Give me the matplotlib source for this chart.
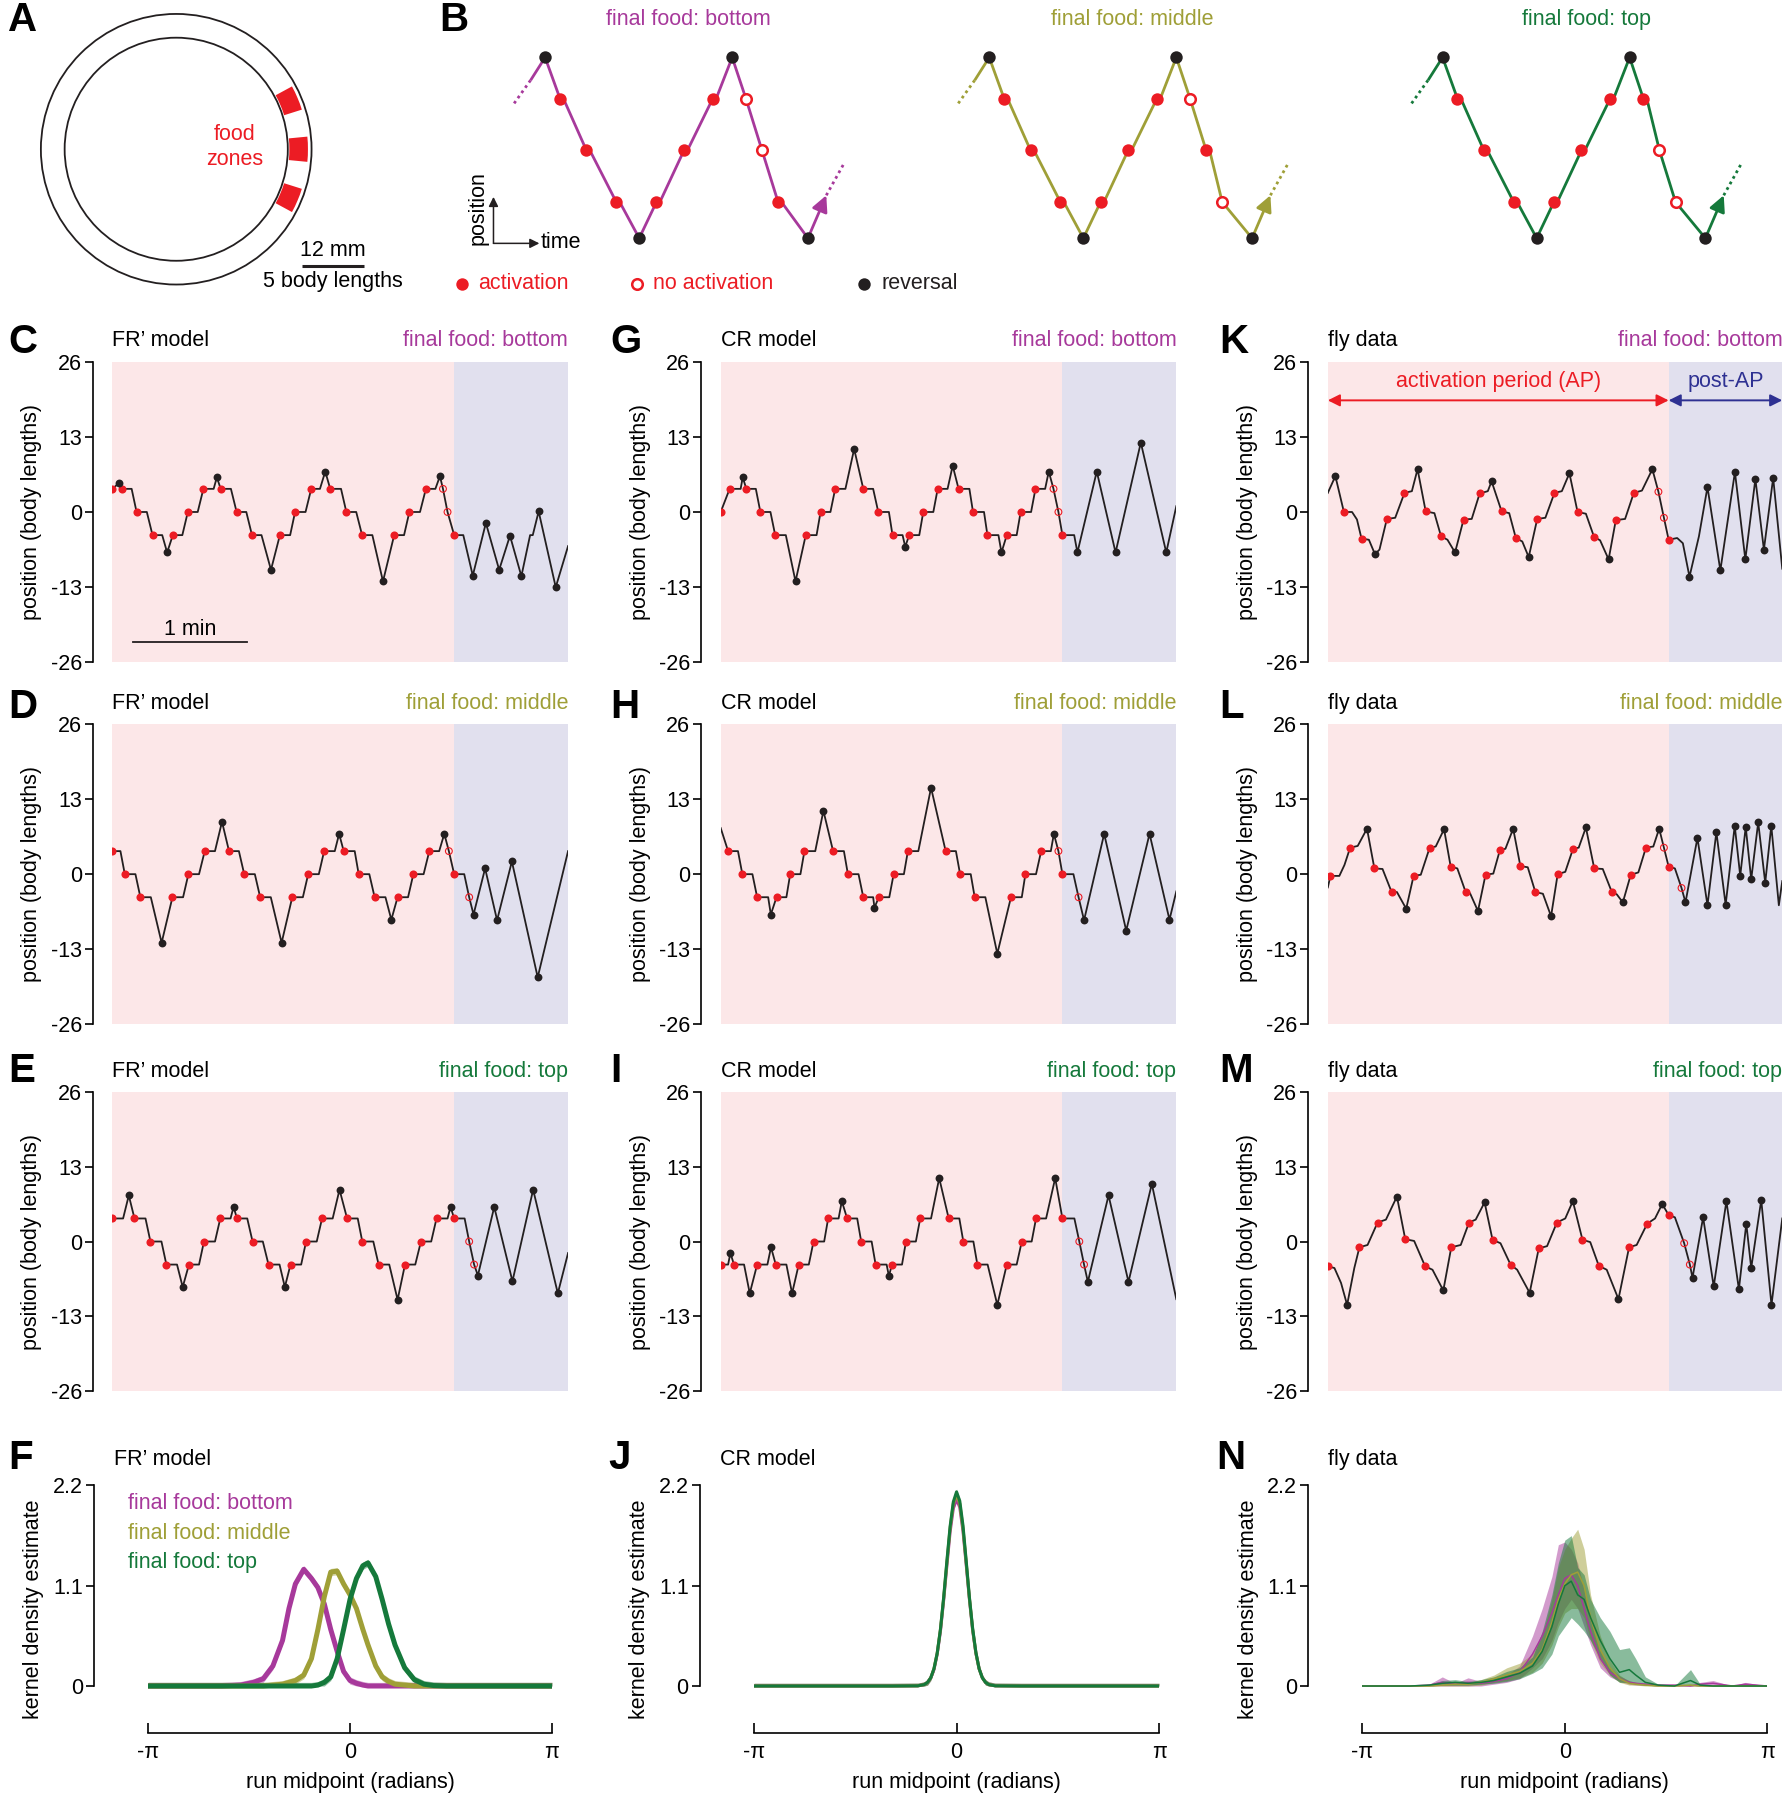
import matplotlib
matplotlib.use("Agg")
import matplotlib.pyplot as plt
from matplotlib.patches import Circle, Wedge
import numpy as np

plt.rcParams['font.family'] = ['Liberation Sans', 'DejaVu Sans']
plt.rcParams['axes.unicode_minus'] = False
plt.rcParams['font.size'] = 15.5

BOTTOM_C = '#A7399B'
MIDDLE_C = '#9F9F37'
TOP_C = '#15793B'
RED = '#EC1C24'
INK = '#231F20'
AP_BG = '#FCE7E8'
POST_BG = '#E1E0EE'
BLUE = '#2E3192'

# panel A: arena in mm
arena_outer = 26.2
arena_inner = 21.6
food_angles = [23, 0, -23]
food_halfwidth = 5.5
scale_bar_mm = 12

# panel B: schematic (time in sketch units, position in zone spacings)
sketch_t = [0, 13, 36, 62, 82, 97, 121, 146, 163, 175, 189, 203, 229]
sketch_y = [1.8, 1, 0, -1, -1.7, -1, 0, 1, 1.8, 1, 0, -1, -1.7]
sketch_bottom = ['r', 'a', 'a', 'a', 'r', 'a', 'a', 'a', 'r', 'n', 'n', 'a', 'r']
sketch_middle = ['r', 'a', 'a', 'a', 'r', 'a', 'a', 'a', 'r', 'n', 'a', 'n', 'r']
sketch_top = ['r', 'a', 'a', 'a', 'r', 'a', 'a', 'a', 'r', 'a', 'n', 'n', 'r']
sketch_lead_t = [-27, -12, 0]
sketch_lead_y = [0.91, 1.38, 1.8]
sketch_tail_t = [229, 245, 260]
sketch_tail_y = [-1.7, -0.87, -0.27]
sketch_offsets = [0, 387, 782]

# trajectories: (time s, position body lengths, marker kind)
fr_bottom = [
    (0, 4, 'a'), (3.4, 5, 'r'), (5.0, 4, 'a'), (10.1, 4, ''), (12.7, 0, 'a'), (18.1, 0, ''),
    (21.1, -4, 'a'), (26.2, -4, ''), (28.8, -7, 'r'), (31.8, -4, 'a'), (36.8, -4, ''),
    (39.7, 0, 'a'), (44.9, 0, ''), (47.9, 4, 'a'), (53.3, 4, ''), (55.0, 6, 'r'),
    (57.0, 4, 'a'), (62.4, 4, ''), (65.4, 0, 'a'), (70.5, 0, ''), (73.5, -4, 'a'),
    (78.5, -4, ''), (83.5, -10, 'r'), (88.2, -4, 'a'), (93.6, -4, ''), (96.2, 0, 'a'),
    (101.7, 0, ''), (104.7, 4, 'a'), (109.3, 4, ''), (112.1, 7, 'r'), (114.7, 4, 'a'),
    (120.4, 4, ''), (123.2, 0, 'a'), (128.4, 0, ''), (131.5, -4, 'a'), (136.9, -4, ''),
    (142.5, -12, 'r'), (148.4, -4, 'a'), (153.6, -4, ''), (156.4, 0, 'a'), (162.0, 0, ''),
    (165.1, 4, 'a'), (170.1, 4, ''), (172.5, 6.2, 'r'), (174.1, 4, 'n'), (176.5, 0, 'n'),
    (180, -4, 'a'), (184.8, -4, ''), (189.8, -11, 'r'), (196.7, -1.9, 'r'), (203.7, -10, 'r'),
    (209.4, -4.1, 'r'), (215.4, -11.1, 'r'), (220.0, -4, ''), (221.4, -4, ''), (224.5, 0.1, 'r'),
    (233.5, -13, 'r'), (240, -5.9, '')]

fr_middle = [
    (0, 4, 'a'), (4.2, 4, ''), (6.5, 0, 'a'), (12.1, 0, ''), (14.7, -4, 'a'), (20.2, -4, ''),
    (25.9, -11.9, 'r'), (31.6, -4, 'a'), (37.2, -4, ''), (40.0, 0, 'a'), (45.6, 0, ''),
    (48.6, 4, 'a'), (54.0, 4, ''), (57.7, 9.1, 'r'), (61.4, 4, 'a'), (66.6, 4, ''),
    (69.4, 0, 'a'), (75.0, 0, ''), (77.8, -4, 'a'), (83.4, -4, ''), (89.1, -11.9, 'r'),
    (94.7, -4, 'a'), (100.3, -4, ''), (103.1, 0, 'a'), (108.7, 0, ''), (111.5, 4, 'a'),
    (117.1, 4, ''), (119.4, 7, 'r'), (121.8, 4, 'a'), (127.6, 4, ''), (129.7, 0, 'a'),
    (135.3, 0, ''), (138.1, -4, 'a'), (143.8, -4, ''), (146.9, -7.9, 'r'), (150.2, -4, 'a'),
    (155.7, -4, ''), (158.5, 0, 'a'), (163.9, 0, ''), (166.9, 4, 'a'), (172.1, 4, ''),
    (174.8, 7, 'r'), (177.2, 4, 'n'), (180, 0, 'a'), (185.3, 0, ''), (187.9, -4, 'n'),
    (190.2, -7, 'r'), (196.3, 1, 'r'), (202.6, -8, 'r'), (210.4, 2.2, 'r'), (224.0, -17.9, 'r'),
    (240, 4, '')]

fr_top = [
    (0, 4, 'a'), (5.6, 4, ''), (8.6, 8, 'r'), (11.6, 4, 'a'), (17.4, 4, ''), (20.0, 0, 'a'),
    (25.8, 0, ''), (28.4, -4, 'a'), (34.0, -4, ''), (37.0, -7.9, 'r'), (40.3, -4, 'a'),
    (45.6, -4, ''), (48.2, 0, 'a'), (54.0, 0, ''), (56.8, 4, 'a'), (62.2, 4, ''), (63.8, 6, 'r'),
    (65.6, 4, 'a'), (71.0, 4, ''), (73.8, 0, 'a'), (79.2, 0, ''), (82.2, -4, 'a'), (88.0, -4, ''),
    (90.8, -7.9, 'r'), (93.8, -4, 'a'), (99.4, -4, ''), (102.0, 0, 'a'), (107.6, 0, ''),
    (110.4, 4, 'a'), (116.0, 4, ''), (119.6, 9, 'r'), (123.6, 4, 'a'), (129.2, 4, ''),
    (131.6, 0, 'a'), (137.4, 0, ''), (140.2, -4, 'a'), (145.8, -4, ''), (150.2, -10.1, 'r'),
    (154.1, -4, 'a'), (159.5, -4, ''), (162.5, 0, 'a'), (167.9, 0, ''), (170.7, 4, 'a'),
    (176.5, 4, ''), (178.1, 6, 'r'), (180, 4, 'a'), (185.5, 4, ''), (187.9, 0, 'n'),
    (190.5, -4, 'n'), (192.5, -5.9, 'r'), (201.1, 6, 'r'), (210.7, -6.9, 'r'), (221.6, 9, 'r'),
    (234.6, -9, 'r'), (240, -2, '')]

cr_bottom = [
    (0, 0, 'a'), (4.7, 4, 'a'), (10.5, 4, ''), (11.6, 6, 'r'), (13.5, 4, 'a'), (18.5, 4, ''),
    (20.9, 0, 'a'), (26.2, 0, ''), (28.7, -4, 'a'), (34.3, -4, ''), (39.4, -12, 'r'),
    (44.8, -4, 'a'), (50.5, -4, ''), (52.6, 0, 'a'), (57.8, 0, ''), (60.3, 4, 'a'), (65.7, 4, ''),
    (70.3, 10.9, 'r'), (75.1, 4, 'a'), (80.3, 4, ''), (83.0, 0, 'a'), (88.6, 0, ''),
    (90.5, -4, 'a'), (95.8, -4, ''), (97.2, -6, 'r'), (99.3, -4, 'a'), (104.6, -4, ''),
    (106.7, 0, 'a'), (112.0, 0, ''), (114.3, 4, 'a'), (119.5, 4, ''), (122.2, 8, 'r'),
    (125.3, 4, 'a'), (131.0, 4, ''), (132.9, 0, 'a'), (138.7, 0, ''), (140.5, -4, 'a'),
    (146.3, -4, ''), (147.9, -7, 'r'), (150.7, -4, 'a'), (155.9, -4, ''), (158.0, 0, 'a'),
    (163.5, 0, ''), (165.8, 4, 'a'), (170.9, 4, ''), (172.8, 7, 'r'), (175.3, 4, 'n'),
    (177.9, 0, 'n'), (180, -4, 'a'), (186.2, -4, ''), (187.9, -7, 'r'), (198.1, 7, 'r'),
    (208.0, -7, 'r'), (221.3, 12, 'r'), (234.7, -7, 'r'), (240, 1, '')]

cr_middle = [
    (0, 8, ''), (3.9, 4, 'a'), (9.1, 4, ''), (11.4, 0, 'a'), (16.7, 0, ''), (19.2, -4, 'a'),
    (25.0, -4, ''), (26.4, -7, 'r'), (29.4, -4, 'a'), (34.6, -4, ''), (36.6, 0, 'a'), (42.0, 0, ''),
    (44.1, 4, 'a'), (49.8, 4, ''), (54.1, 11, 'r'), (59.2, 4, 'a'), (64.9, 4, ''), (67.0, 0, 'a'),
    (72.6, 0, ''), (75.1, -4, 'a'), (80.3, -4, ''), (81.0, -5.8, 'r'), (83.3, -4, 'a'),
    (88.8, -4, ''), (91.1, 0, 'a'), (96.5, 0, ''), (98.6, 4, 'a'), (104.1, 4, ''), (110.8, 15, 'r'),
    (118.5, 4, 'a'), (123.9, 4, ''), (126.1, 0, 'a'), (131.7, 0, ''), (133.8, -4, 'a'),
    (139.4, -4, ''), (145.7, -13.8, 'r'), (152.9, -4, 'a'), (158.6, -4, ''), (160.5, 0, 'a'),
    (166.1, 0, ''), (168.8, 4, 'a'), (173.9, 4, ''), (175.5, 7, 'r'), (177.9, 4, 'n'),
    (180, 0, 'a'), (185.8, 0, ''), (188.5, -4, 'n'), (191.4, -8, 'r'), (202.0, 7, 'r'),
    (213.6, -9.8, 'r'), (225.9, 7, 'r'), (236.4, -7.9, 'r'), (240, -3, '')]

cr_top = [
    (0, -4, 'a'), (3.9, -4, ''), (5.1, -2, 'r'), (7.0, -4, 'a'), (12.3, -4, ''), (15.3, -9, 'r'),
    (19.2, -4, 'a'), (24.6, -4, ''), (26.5, -1, 'r'), (29.0, -4, 'a'), (34.6, -4, ''),
    (37.6, -9, 'r'), (41.1, -4, 'a'), (46.4, -4, ''), (48.9, 0, 'a'), (54.5, 0, ''),
    (56.6, 4, 'a'), (62.1, 4, ''), (63.8, 7, 'r'), (66.6, 4, 'a'), (71.9, 4, ''), (74.0, 0, 'a'),
    (79.5, 0, ''), (81.6, -4, 'a'), (87.4, -4, ''), (88.6, -6, 'r'), (90.2, -4, 'a'),
    (95.5, -4, ''), (97.6, 0, 'a'), (102.8, 0, ''), (105.1, 4, 'a'), (110.8, 4, ''),
    (115.1, 11, 'r'), (120.1, 4, 'a'), (125.7, 4, ''), (127.8, 0, 'a'), (133.1, 0, ''),
    (135.2, -4, 'a'), (140.6, -4, ''), (145.7, -11, 'r'), (150.7, -4, 'a'), (155.9, -4, ''),
    (158.6, 0, 'a'), (163.8, 0, ''), (166.1, 4, 'a'), (171.4, 4, ''), (176.2, 11, 'r'),
    (180, 4, 'a'), (186.3, 4, ''), (188.9, 0, 'n'), (191.4, -4, 'n'), (193.4, -7, 'r'),
    (204.3, 8, 'r'), (214.8, -7, 'r'), (227.1, 10, 'r'), (240, -10, '')]

fly_bottom = [
    (0, 3.3, ''), (4.0, 6.2, 'r'), (8.5, 0, 'a'), (12.8, 0, ''), (15.4, -1.3, ''), (17.8, -4.6, 'a'),
    (21.7, -4.8, ''), (24.9, -7.3, 'r'), (27.3, -6.5, ''), (31.2, -1.2, 'a'), (35.6, -1.0, ''),
    (40.5, 3.3, 'a'), (44.4, 3.6, ''), (47.4, 7.4, 'r'), (51.7, 0.1, 'a'), (56.3, -0.2, ''),
    (59.8, -4.2, 'a'), (63.2, -4.8, ''), (67.2, -7.0, 'r'), (71.7, -1.3, 'a'), (76.0, -1.2, ''),
    (80.2, 3.2, 'a'), (84.5, 3.6, ''), (86.5, 5.3, 'r'), (91.8, 0.1, 'a'), (95.8, -0.2, ''),
    (99.3, -4.5, 'a'), (102.7, -5.1, ''), (106.1, -7.8, 'r'), (110.6, -1.2, 'a'), (114.9, -1.0, ''),
    (119.7, 3.3, 'a'), (123.6, 3.6, ''), (127.6, 6.7, 'r'), (131.9, 0, 'a'), (136.3, -0.3, ''),
    (140.6, -4.3, 'a'), (143.8, -4.9, ''), (148.3, -8.2, 'r'), (152.1, -1.4, 'a'), (157.0, -1.2, ''),
    (161.6, 3.3, 'a'), (165.9, 3.7, ''), (171.4, 7.4, 'r'), (174.6, 3.5, 'n'), (177.5, -1.0, 'n'),
    (180, -4.8, 'a'), (184.5, -4.5, ''), (187.5, -5.4, ''), (191, -11.2, 'r'), (196, -4.2, ''),
    (200.5, 4.3, 'r'), (207.3, -10.1, 'r'), (215, 6.9, 'r'), (220.5, -8.2, 'r'), (225.8, 5.7, 'r'),
    (230.3, -6.5, 'r'), (235.2, 5.9, 'r'), (240, -9.8, '')]

fly_middle = [
    (0, -2.3, ''), (1.4, -0.3, 'a'), (6.1, -0.3, ''), (8.8, 1.6, ''), (11.8, 4.6, 'a'), (15.8, 4.9, ''),
    (20.7, 7.9, 'r'), (24.6, 1.0, 'a'), (28.9, 0.9, ''), (33.7, -3.1, 'a'), (36.5, -3.1, ''),
    (41.4, -6.0, 'r'), (45.3, -0.3, 'a'), (49.1, -0.1, ''), (53.8, 4.6, 'a'), (57.0, 4.8, ''),
    (61.4, 7.8, 'r'), (64.9, 1.3, 'a'), (68.4, 1.0, ''), (72.8, -3.1, 'a'), (75.1, -3.3, ''),
    (79.3, -6.4, 'r'), (83.3, -0.1, 'a'), (87.4, 0.1, ''), (90.9, 4.2, 'a'), (93.8, 4.4, ''),
    (97.9, 7.9, 'r'), (101.7, 1.4, 'a'), (105.6, 1.2, ''), (109.6, -3.1, 'a'), (113.6, -3.4, ''),
    (117.9, -7.3, 'r'), (121.4, 0, 'a'), (125.4, 0.4, ''), (129.5, 4.4, 'a'), (132.5, 4.6, ''),
    (136.3, 8.1, 'r'), (140.7, 1.0, 'a'), (145.2, 0.9, ''), (150.0, -3.1, 'a'), (152.6, -3.5, ''),
    (155.8, -4.9, 'r'), (160.0, -0.1, 'a'), (164.0, 0.3, ''), (168.0, 4.6, 'a'), (171.9, 4.8, ''),
    (175.0, 7.9, 'r'), (177.5, 4.6, 'n'), (180, 1.3, 'a'), (183.3, 1.0, ''), (186.8, -2.4, 'n'),
    (188.9, -4.9, 'r'), (195.2, 6.3, 'r'), (200.5, -5.4, 'r'), (205.2, 7.3, 'r'), (210.1, -5.3, 'r'),
    (214.9, 8.4, 'r'), (217.8, -0.3, 'r'), (220.7, 8.2, 'r'), (223.6, -0.9, 'r'), (227.3, 9.0, 'r'),
    (231.0, -1.5, 'r'), (234.2, 8.4, 'r'), (238.2, -5.4, ''), (240, -1.2, '')]

fly_top = [
    (0, -4.3, 'a'), (3.5, -4.6, ''), (7.0, -7.2, ''), (10.2, -11, 'r'), (14.0, -4.6, ''),
    (16.7, -1.0, 'a'), (21.0, -0.6, ''), (26.3, 3.3, 'a'), (30.7, 3.8, ''), (36.5, 7.8, 'r'),
    (40.9, 0.4, 'a'), (45.6, 0.1, ''), (51.4, -4.3, 'a'), (55.3, -4.9, ''), (61.0, -8.5, 'r'),
    (65.2, -1.0, 'a'), (70.2, -0.6, ''), (74.6, 3.3, 'a'), (78.1, 3.8, ''), (82.8, 6.8, 'r'),
    (87.0, 0.3, 'a'), (91.2, -0.3, ''), (96.5, -4.0, 'a'), (100.0, -4.9, ''), (106.6, -8.9, 'r'),
    (111.4, -1.2, 'a'), (115.8, -0.8, ''), (121.0, 3.3, 'a'), (125.4, 4.0, ''), (129.4, 7.0, 'r'),
    (134.5, 0.3, 'a'), (138.6, -0.1, ''), (143.1, -4.2, 'a'), (147.3, -4.9, ''), (153.5, -10, 'r'),
    (159.1, -1.0, 'a'), (163.1, -0.6, ''), (168.7, 3.1, 'a'), (172.8, 4.0, ''), (176.6, 6.5, 'r'),
    (180, 4.6, 'a'), (183.3, 4.2, ''), (188.2, -0.3, 'n'), (191.2, -4.0, 'n'), (192.6, -6.3, 'r'),
    (198.2, 4.2, 'r'), (203.8, -7.8, 'r'), (210.5, 7.0, 'r'), (217.1, -8.3, 'r'), (221.0, 3.1, 'r'),
    (223.6, -4.6, 'r'), (228.9, 7.2, 'r'), (234.3, -11, 'r'), (240, 4, '')]

# kernel density estimates (run midpoint in radians)
xF = [-3.14, -2.0, -1.7, -1.5, -1.35, -1.2, -1.05, -0.95, -0.85, -0.72, -0.6, -0.5, -0.4,
      -0.3, -0.2, -0.1, 0.0, 0.1, 0.2, 0.28, 0.4, 0.5, 0.6, 0.7, 0.85, 1.0, 1.15, 1.3, 1.5, 3.14]
F_bottom = [0, 0, 0.01, 0.04, 0.08, 0.22, 0.5, 0.85, 1.12, 1.28, 1.18, 1.08, 0.9, 0.62, 0.38,
            0.16, 0.06, 0.03, 0.01, 0, 0, 0, 0, 0, 0, 0, 0, 0, 0, 0]
F_middle = [0, 0, 0, 0, 0, 0.01, 0.02, 0.04, 0.06, 0.12, 0.3, 0.62, 0.98, 1.25, 1.26, 1.12,
            1.0, 0.85, 0.62, 0.45, 0.22, 0.1, 0.05, 0.02, 0.01, 0, 0, 0, 0, 0]
F_top = [0, 0, 0, 0, 0, 0, 0, 0, 0, 0, 0, 0.01, 0.04, 0.1, 0.3, 0.62, 0.95, 1.18, 1.32,
         1.35, 1.2, 0.95, 0.68, 0.45, 0.2, 0.07, 0.02, 0.005, 0, 0]
F_sem = 0.04

xJ = [-3.14, -1.0, -0.6, -0.5, -0.45, -0.4, -0.35, -0.3, -0.25, -0.2, -0.15, -0.1, -0.05, 0.0,
      0.05, 0.1, 0.15, 0.2, 0.25, 0.3, 0.35, 0.4, 0.45, 0.5, 0.6, 1.0, 3.14]
J_bottom = [0, 0, 0.002, 0.016, 0.04, 0.09, 0.18, 0.35, 0.6, 0.94, 1.32, 1.69, 1.95, 2.05,
            1.96, 1.7, 1.33, 0.95, 0.61, 0.36, 0.19, 0.09, 0.04, 0.016, 0.002, 0, 0]
J_middle = [0, 0, 0.002, 0.016, 0.04, 0.09, 0.19, 0.36, 0.62, 0.96, 1.35, 1.73, 2.0, 2.1,
            2.0, 1.73, 1.35, 0.96, 0.62, 0.36, 0.19, 0.09, 0.04, 0.016, 0.002, 0, 0]
J_top = [0, 0, 0.002, 0.016, 0.04, 0.09, 0.19, 0.36, 0.62, 0.97, 1.37, 1.75, 2.02, 2.13,
         2.03, 1.76, 1.37, 0.97, 0.63, 0.37, 0.19, 0.09, 0.04, 0.016, 0.002, 0, 0]
J_sem = 0.03

xN = [-3.14, -2.4, -2.1, -1.9, -1.7, -1.5, -1.3, -1.1, -0.9, -0.7, -0.5, -0.35, -0.2, -0.1,
      0.0, 0.1, 0.2, 0.3, 0.4, 0.55, 0.7, 0.85, 1.0, 1.1, 1.25, 1.45, 1.7, 1.95, 2.1, 2.3,
      2.6, 2.8, 3.14]
N_bottom = [0, 0, 0.01, 0.04, 0.02, 0.04, 0.03, 0.05, 0.08, 0.15, 0.35, 0.55, 0.8, 1.0, 1.18,
            1.22, 1.1, 0.85, 0.6, 0.3, 0.15, 0.08, 0.04, 0.03, 0.02, 0.01, 0.01, 0, 0.02, 0.03,
            0, 0.02, 0]
N_bottom_hi = [0, 0, 0.02, 0.1, 0.03, 0.09, 0.05, 0.08, 0.12, 0.22, 0.55, 0.85, 1.2, 1.55,
               1.58, 1.5, 1.35, 1.05, 0.75, 0.4, 0.2, 0.11, 0.06, 0.04, 0.03, 0.01, 0.01, 0,
               0.04, 0.06, 0, 0.04, 0]
N_bottom_lo = [0, 0, 0, 0, 0, 0, 0, 0.02, 0.04, 0.08, 0.2, 0.3, 0.5, 0.7, 0.85, 0.95, 0.85,
               0.65, 0.45, 0.2, 0.1, 0.05, 0.02, 0.01, 0.01, 0, 0, 0, 0, 0, 0, 0, 0]
N_middle = [0, 0, 0, 0.01, 0.02, 0.02, 0.04, 0.08, 0.12, 0.16, 0.25, 0.4, 0.7, 0.95, 1.12,
            1.22, 1.25, 1.1, 0.75, 0.4, 0.2, 0.08, 0.03, 0.02, 0.01, 0, 0, 0.01, 0, 0, 0, 0, 0]
N_middle_hi = [0, 0, 0, 0.02, 0.04, 0.04, 0.07, 0.12, 0.2, 0.25, 0.35, 0.55, 0.95, 1.3, 1.5,
               1.62, 1.72, 1.5, 1.0, 0.55, 0.28, 0.12, 0.05, 0.03, 0.02, 0, 0, 0.02, 0, 0, 0,
               0, 0]
N_middle_lo = [0, 0, 0, 0, 0, 0, 0.01, 0.04, 0.06, 0.09, 0.15, 0.25, 0.45, 0.65, 0.8, 0.85,
               0.85, 0.75, 0.5, 0.25, 0.12, 0.04, 0.01, 0.01, 0, 0, 0, 0, 0, 0, 0, 0, 0]
N_top = [0, 0, 0.01, 0.03, 0.04, 0.03, 0.04, 0.06, 0.1, 0.14, 0.22, 0.38, 0.65, 0.9, 1.1,
         1.15, 1.0, 0.95, 0.75, 0.5, 0.3, 0.15, 0.18, 0.12, 0.04, 0.01, 0, 0.06, 0.01, 0, 0,
         0, 0]
N_top_hi = [0, 0, 0.02, 0.06, 0.07, 0.05, 0.07, 0.1, 0.16, 0.2, 0.32, 0.6, 1.0, 1.35, 1.6,
            1.65, 1.3, 1.22, 0.95, 0.75, 0.6, 0.4, 0.42, 0.3, 0.1, 0.02, 0, 0.18, 0.02, 0, 0,
            0, 0]
N_top_lo = [0, 0, 0, 0.01, 0.01, 0.01, 0.02, 0.03, 0.05, 0.08, 0.14, 0.2, 0.35, 0.55, 0.65,
            0.75, 0.68, 0.6, 0.5, 0.3, 0.12, 0.04, 0.04, 0.02, 0.01, 0, 0, 0.01, 0, 0, 0, 0, 0]

food_names = ['bottom', 'middle', 'top']
food_colors = [BOTTOM_C, MIDDLE_C, TOP_C]
model_names = ['FR\u2019 model', 'CR model', 'fly data']

# layout in reference pixels
W, H = 1558.0, 1568.0


def box(x0, y0, x1, y1):
    return [x0 / W, 1 - y1 / H, (x1 - x0) / W, (y1 - y0) / H]


fig = plt.figure(figsize=(17.88, 18.0), dpi=100)


def letter(ch, x, y):
    fig.text(x / W, 1 - y / H, ch, fontsize=29, fontweight='bold', ha='left', va='center')


# ---------- panel A
axA = fig.add_axes(box(20, 0, 330, 260))
axA.set_xlim(-29.67, 39.2)
axA.set_ylim(-28.9, 28.9)
axA.axis('off')
axA.add_patch(Circle((0, 0), arena_outer, fill=False, ec=INK, lw=1.3))
axA.add_patch(Circle((0, 0), arena_inner, fill=False, ec=INK, lw=1.3))
for ang in food_angles:
    axA.add_patch(Wedge((0, 0), arena_outer - 0.7, ang - food_halfwidth, ang + food_halfwidth,
                        width=arena_outer - arena_inner - 1.0, color=RED, lw=0))
axA.text(11.4, 0.4, 'food\nzones', color=RED, ha='center', va='center', linespacing=1.25)
bar_x0 = 24.3
axA.plot([bar_x0, bar_x0 + scale_bar_mm], [-22.7, -22.7], color=INK, lw=2.2, solid_capstyle='butt')
axA.text(bar_x0 + scale_bar_mm / 2, -19.6, '12 mm', ha='center', va='center')
axA.text(bar_x0 + scale_bar_mm / 2, -25.6, '5 body lengths', ha='center', va='center')
letter('A', 7, 17)

# ---------- panel B
axB = fig.add_axes(box(380, 25, 1520, 265))
axB.set_xlim(-95, 1045)
axB.set_ylim(-2.978, 2.356)
axB.axis('off')
for off, kinds, col, name in zip(sketch_offsets, [sketch_bottom, sketch_middle, sketch_top],
                                 food_colors, food_names):
    lt, ly = [], []
    for tt, yy, k in zip(sketch_t, sketch_y, kinds):
        lt.append(tt + off)
        ly.append(yy)
        if k == 'a':
            lt.append(tt + off + 3)
            ly.append(yy)
    axB.plot(lt, ly, color=col, lw=2.0, zorder=2)
    axB.plot([off + v for v in sketch_lead_t[:2]], sketch_lead_y[:2], color=col, lw=2.0,
             ls=(0, (1, 1.3)))
    axB.plot([off + v for v in sketch_lead_t[1:]], sketch_lead_y[1:], color=col, lw=2.0)
    axB.annotate('', xy=(off + sketch_tail_t[1], sketch_tail_y[1]),
                 xytext=(off + sketch_tail_t[0], sketch_tail_y[0]),
                 arrowprops=dict(arrowstyle='-|>', color=col, lw=2.0, mutation_scale=24,
                                 shrinkA=0, shrinkB=0))
    axB.plot([off + v for v in sketch_tail_t[1:]], sketch_tail_y[1:], color=col, lw=2.0,
             ls=(0, (1, 1.3)))
    for kind in ['a', 'n', 'r']:
        xs = [tt + off for tt, k in zip(sketch_t, kinds) if k == kind]
        ys = [yy for yy, k in zip(sketch_y, kinds) if k == kind]
        if kind == 'a':
            axB.scatter(xs, ys, s=80, color=RED, zorder=4, lw=0)
        elif kind == 'n':
            axB.scatter(xs, ys, s=58, facecolor='white', edgecolor=RED, lw=1.8, zorder=4)
        else:
            axB.scatter(xs, ys, s=80, color=INK, zorder=4, lw=0)
    axB.text(off + 125, 2.53, 'final food: ' + name, color=col, ha='center', va='center')
letter('B', 383, 17)

# legend row
axB.scatter([-72], [-2.58], s=80, color=RED, lw=0)
axB.text(-58, -2.58, 'activation', color=RED, ha='left', va='center')
axB.scatter([80], [-2.58], s=58, facecolor='white', edgecolor=RED, lw=1.8)
axB.text(94, -2.58, 'no activation', color=RED, ha='left', va='center')
axB.scatter([278], [-2.58], s=80, color=INK, lw=0)
axB.text(293, -2.58, 'reversal', color=INK, ha='left', va='center')
# position / time mini axes
axB.annotate('', xy=(-45, -0.9), xytext=(-45, -1.8),
             arrowprops=dict(arrowstyle='-|>', color=INK, lw=1.1, mutation_scale=14,
                             shrinkA=0, shrinkB=0))
axB.annotate('', xy=(-5, -1.8), xytext=(-45, -1.8),
             arrowprops=dict(arrowstyle='-|>', color=INK, lw=1.1, mutation_scale=14,
                             shrinkA=0, shrinkB=0))
axB.text(-58, -1.12, 'position', rotation=90, ha='center', va='center')
axB.text(-4, -1.78, 'time', ha='left', va='center')

# ---------- trajectory panels
cols = [(98, 495), (628, 1025), (1157, 1553)]
rows = [(315, 577), (631, 892), (951, 1212)]
paths = [[fr_bottom, cr_bottom, fly_bottom],
         [fr_middle, cr_middle, fly_middle],
         [fr_top, cr_top, fly_top]]
letters = [['C', 'G', 'K'], ['D', 'H', 'L'], ['E', 'I', 'M']]
letter_x = [7, 532, 1062]
letter_y = [298, 616, 933]

traj_axes = {}
for r, (y0, y1) in enumerate(rows):
    for c, (x0, x1) in enumerate(cols):
        ax = fig.add_axes(box(x0, y0, x1, y1))
        traj_axes[(r, c)] = ax
        path = paths[r][c]
        ax.axvspan(0, 180, color=AP_BG, lw=0, zorder=0)
        ax.axvspan(180, 240, color=POST_BG, lw=0, zorder=0)
        ax.plot([p[0] for p in path], [p[1] for p in path], color=INK, lw=1.3, zorder=2)
        act = [p for p in path if p[2] == 'a']
        non = [p for p in path if p[2] == 'n']
        rev = [p for p in path if p[2] == 'r']
        ax.scatter([p[0] for p in act], [p[1] for p in act], s=34, color=RED, lw=0, zorder=4)
        ax.scatter([p[0] for p in rev], [p[1] for p in rev], s=32, color=INK, lw=0, zorder=4)
        ax.scatter([p[0] for p in non], [p[1] for p in non], s=24, facecolor='none',
                   edgecolor=RED, lw=0.8, zorder=4)
        ax.set_xlim(0, 240)
        ax.set_ylim(-26, 26)
        for s in ['top', 'right', 'bottom']:
            ax.spines[s].set_visible(False)
        ax.spines['left'].set_position(('outward', 14))
        ax.spines['left'].set_linewidth(1.2)
        ax.set_xticks([])
        ax.set_yticks([-26, -13, 0, 13, 26])
        ax.set_yticklabels(['-26', '-13', '0', '13', '26'])
        ax.tick_params(axis='y', direction='out', length=6, width=1.2, labelsize=15.5, pad=2)
        ax.set_ylabel('position (body lengths)', fontsize=15.5, labelpad=6)
        ax.text(0, 1.069, model_names[c], transform=ax.transAxes, ha='left', va='center')
        ax.text(1, 1.069, 'final food: ' + food_names[r], color=food_colors[r],
                transform=ax.transAxes, ha='right', va='center')
        letter(letters[r][c], letter_x[c], letter_y[r])

# scale bar in C
axC = traj_axes[(0, 0)]
axC.plot([10.7, 70.7], [-22.5, -22.5], color=INK, lw=1.3)
axC.text(40.7, -20.3, '1 min', ha='center', va='center')

# AP annotation in K
axK = traj_axes[(0, 2)]
axK.annotate('', xy=(0, 19.3), xytext=(180, 19.3),
             arrowprops=dict(arrowstyle='<|-|>', color=RED, lw=1.4, mutation_scale=18,
                             shrinkA=0, shrinkB=0))
axK.annotate('', xy=(180, 19.3), xytext=(240, 19.3),
             arrowprops=dict(arrowstyle='<|-|>', color=BLUE, lw=1.4, mutation_scale=18,
                             shrinkA=0, shrinkB=0))
axK.text(90, 22.6, 'activation period (AP)', color=RED, ha='center', va='center')
axK.text(210, 22.6, 'post-AP', color=BLUE, ha='center', va='center')

# ---------- KDE panels
kde_cols = [(129, 481), (657, 1010), (1187, 1540)]
kde_letters = ['F', 'J', 'N']
kde_letter_x = [7, 530, 1060]


def style_kde(ax, title):
    ax.set_xlim(-np.pi, np.pi)
    ax.set_ylim(-0.52, 2.2)
    for s in ['top', 'right']:
        ax.spines[s].set_visible(False)
    ax.spines['left'].set_position(('outward', 39))
    ax.spines['left'].set_bounds(0, 2.2)
    ax.spines['left'].set_linewidth(1.2)
    ax.spines['bottom'].set_linewidth(1.2)
    ax.set_xticks([-np.pi, 0, np.pi])
    ax.set_xticklabels(['-\u03c0', '0', '\u03c0'])
    ax.set_yticks([0, 1.1, 2.2])
    ax.set_yticklabels(['0', '1.1', '2.2'])
    ax.tick_params(axis='x', direction='in', length=7, width=1.2, labelsize=15.5, pad=6)
    ax.tick_params(axis='y', direction='out', length=6, width=1.2, labelsize=15.5, pad=2)
    ax.set_ylabel('kernel density estimate', fontsize=15.5, labelpad=6)
    ax.set_xlabel('run midpoint (radians)', fontsize=15.5, labelpad=7)
    ax.text(-0.085, 1.106, title, transform=ax.transAxes, ha='left', va='center')


kde_axes = []
for c, (x0, x1) in enumerate(kde_cols):
    ax = fig.add_axes(box(x0, 1294, x1, 1510))
    kde_axes.append(ax)
    style_kde(ax, model_names[c])
    letter(kde_letters[c], kde_letter_x[c], 1270)

axF, axJ, axN = kde_axes
for ys, col in zip([F_bottom, F_middle, F_top], food_colors):
    lo = [max(v - F_sem, 0) for v in ys]
    hi = [v + F_sem for v in ys]
    axF.fill_between(xF, lo, hi, color=col, alpha=0.45, lw=0)
    axF.plot(xF, ys, color=col, lw=3.6, solid_joinstyle='round')
axF.text(-3.46, 2.0, 'final food: bottom', color=BOTTOM_C, ha='left', va='center')
axF.text(-3.46, 1.67, 'final food: middle', color=MIDDLE_C, ha='left', va='center')
axF.text(-3.46, 1.36, 'final food: top', color=TOP_C, ha='left', va='center')

for ys, col in zip([J_bottom, J_middle, J_top], food_colors):
    lo = [max(v - J_sem, 0) for v in ys]
    hi = [v + J_sem for v in ys]
    axJ.fill_between(xJ, lo, hi, color=col, alpha=0.4, lw=0)
    axJ.plot(xJ, ys, color=col, lw=2.2)

for ys, lo, hi, col in zip([N_bottom, N_middle, N_top], [N_bottom_lo, N_middle_lo, N_top_lo],
                           [N_bottom_hi, N_middle_hi, N_top_hi], food_colors):
    axN.fill_between(xN, lo, hi, color=col, alpha=0.5, lw=0)
for ys, col in zip([N_bottom, N_middle, N_top], food_colors):
    axN.plot(xN, ys, color=col, lw=1.1)

fig.savefig('out.png', dpi=100)
